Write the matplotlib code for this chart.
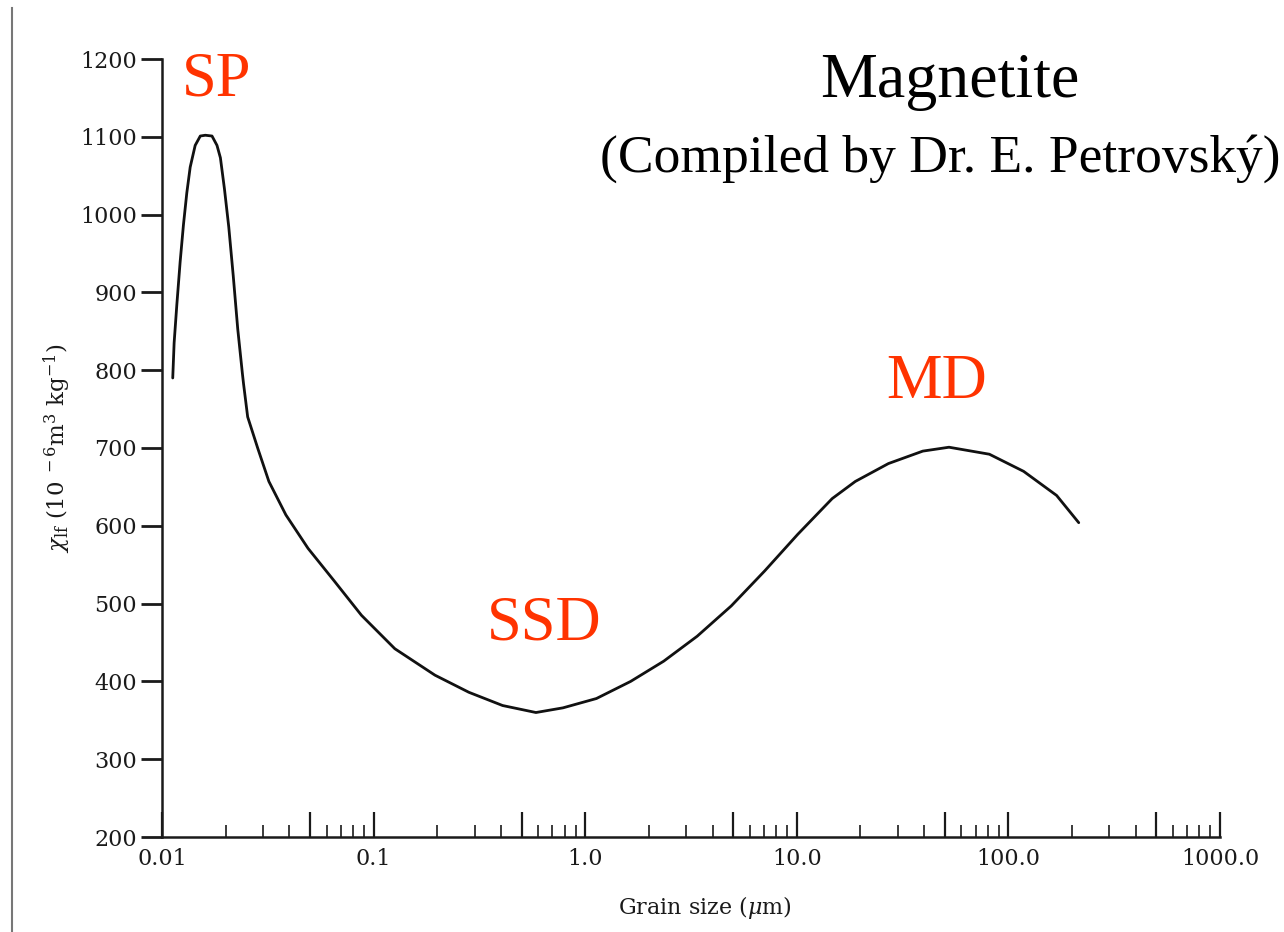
import matplotlib
matplotlib.use('Agg')
import matplotlib.pyplot as plt
from matplotlib.lines import Line2D
from matplotlib.ticker import FixedLocator, FixedFormatter, NullFormatter

# Grain size (um) and low-field susceptibility
grain_size = [0.01124, 0.01141, 0.01175, 0.01218, 0.01263, 0.01310, 0.01359, 0.01435,
              0.01517, 0.01602, 0.01723, 0.01819, 0.01888, 0.01973, 0.02068, 0.0217,
              0.0228, 0.0240, 0.0243, 0.0254, 0.0284, 0.0320, 0.0385, 0.0490, 0.0652,
              0.0876, 0.126, 0.195, 0.282, 0.407, 0.585, 0.785, 1.13, 1.64, 2.35, 3.38,
              4.90, 7.05, 10.1, 14.7, 18.9, 27.1, 39.4, 52.4, 81.3, 118, 169, 215]
chi_lf = [790, 835, 884, 939, 987, 1028, 1061, 1089,
          1101, 1102, 1101, 1089, 1073, 1033, 984, 922,
          853, 795, 782, 740, 699, 657, 614, 571, 529,
          485, 442, 408, 386, 369, 360, 366, 378, 400, 426, 458,
          497, 542, 589, 635, 657, 680, 696, 701, 692, 670, 639, 604]

y_ticks = [200, 300, 400, 500, 600, 700, 800, 900, 1000, 1100, 1200]
x_major = [0.01, 0.05, 0.1, 0.5, 1, 5, 10, 50, 100, 500, 1000]
x_labels = ['0.01', '', '0.1', '', '1.0', '', '10.0', '', '100.0', '', '1000.0']
x_minor = [m * 10.0 ** e for e in range(-2, 3) for m in (2, 3, 4, 6, 7, 8, 9)]

plt.rcParams['mathtext.fontset'] = 'dejavuserif'
plt.rcParams['font.family'] = 'DejaVu Serif'

W, H = 1284, 932
fig = plt.figure(figsize=(W / 100, H / 100), dpi=100)
ax = fig.add_axes([162 / W, 1 - 837 / H, (1220 - 162) / W, (837 - 59) / H])

ax.plot(grain_size, chi_lf, color='#111111', lw=2.0, solid_joinstyle='round',
        solid_capstyle='round')

ax.set_xscale('log')
ax.set_xlim(0.01, 1000)
ax.set_ylim(200, 1200)

for s in ['top', 'right']:
    ax.spines[s].set_visible(False)
for s in ['left', 'bottom']:
    ax.spines[s].set_linewidth(1.8)
    ax.spines[s].set_color('#1a1a1a')

ax.set_yticks(y_ticks)
ax.tick_params(axis='y', direction='out', length=15, width=2, labelsize=16,
               pad=3, colors='#1a1a1a')

ax.xaxis.set_major_locator(FixedLocator(x_major))
ax.xaxis.set_major_formatter(FixedFormatter(x_labels))
ax.xaxis.set_minor_locator(FixedLocator(x_minor))
ax.xaxis.set_minor_formatter(NullFormatter())
ax.tick_params(axis='x', which='major', direction='in', length=18, width=1.6,
               labelsize=16, pad=8, colors='#1a1a1a')
ax.tick_params(axis='x', which='minor', direction='in', length=9, width=1.2,
               colors='#1a1a1a')

ax.set_xlabel(r'Grain size ($\mu$m)', fontsize=16, color='#1a1a1a', va='center')
ax.xaxis.set_label_coords(0.513, -0.09)
ax.set_ylabel(r'$\chi_{\rm lf}\ (10^{\ -6}{\rm m}^{3}\ {\rm kg}^{-1})$', fontsize=16.5,
              color='#1a1a1a', va='center')
ax.yaxis.set_label_coords(-0.099, 0.5)

# annotations
red = '#FF3300'
serif = 'Liberation Serif'
fig.text(217 / W, 1 - 95 / H, 'SP', ha='center', va='baseline', fontsize=45,
         color=red, family=serif)
fig.text(544 / W, 1 - 639 / H, 'SSD', ha='center', va='baseline', fontsize=45,
         color=red, family=serif)
fig.text(937 / W, 1 - 398 / H, 'MD', ha='center', va='baseline', fontsize=45,
         color=red, family=serif)
fig.text(950 / W, 1 - 97 / H, 'Magnetite', ha='center', va='baseline', fontsize=46,
         color='black', family=serif)
fig.text(1280 / W, 1 - 172 / H, '(Compiled by Dr. E. Petrovský)', ha='right',
         va='baseline', fontsize=38.5, color='black', family=serif)

# scan border line at the far left
fig.add_artist(Line2D([12 / W, 12 / W], [0, 1 - 8 / H], transform=fig.transFigure,
                      color='#777777', lw=1.5))

fig.savefig('out.png', dpi=100)
